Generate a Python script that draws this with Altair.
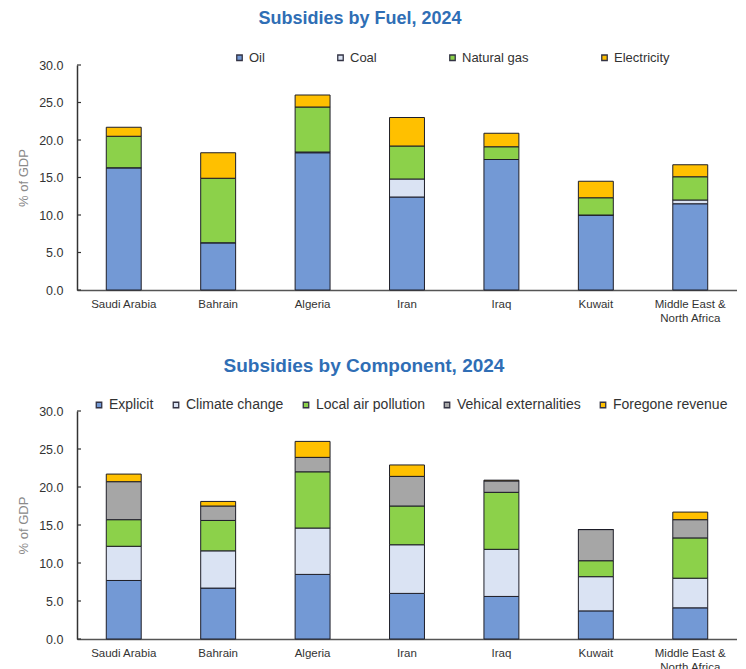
import altair as alt
import pandas as pd

countries = ["Saudi Arabia", "Bahrain", "Algeria", "Iran", "Iraq", "Kuwait", "Middle East & North Africa"]

fuel_names = ["Oil", "Coal", "Natural gas", "Electricity"]
fuel_oil = [16.3, 6.3, 18.3, 12.4, 17.4, 10.0, 11.5]
fuel_coal = [0.0, 0.0, 0.1, 2.4, 0.0, 0.0, 0.5]
fuel_gas = [4.2, 8.6, 6.0, 4.4, 1.7, 2.3, 3.1]
fuel_elec = [1.2, 3.4, 1.6, 3.8, 1.8, 2.2, 1.6]
fuel_colors = ["#7399d5", "#dae3f3", "#8cd14a", "#ffc000"]

comp_names = ["Explicit", "Climate change", "Local air pollution", "Vehical externalities", "Foregone revenue"]
comp_explicit = [7.7, 6.7, 8.5, 6.0, 5.6, 3.7, 4.1]
comp_climate = [4.5, 4.9, 6.1, 6.4, 6.2, 4.5, 3.9]
comp_local = [3.5, 4.0, 7.4, 5.1, 7.5, 2.1, 5.3]
comp_vehicle = [5.0, 1.9, 1.9, 3.9, 1.5, 4.1, 2.4]
comp_foregone = [1.0, 0.6, 2.1, 1.5, 0.1, 0.0, 1.0]
comp_colors = ["#7399d5", "#dae3f3", "#8cd14a", "#a6a6a6", "#ffc000"]

y_ticks = [0, 5, 10, 15, 20, 25, 30]


def make_df(names, series):
    rows = []
    for k, (name, vals) in enumerate(zip(names, series)):
        for c, v in zip(countries, vals):
            rows.append({"country": c, "series": name, "value": v, "order": k})
    return pd.DataFrame(rows)


fuel_df = make_df(fuel_names, [fuel_oil, fuel_coal, fuel_gas, fuel_elec])
comp_df = make_df(comp_names, [comp_explicit, comp_climate, comp_local, comp_vehicle, comp_foregone])
tick_df = pd.DataFrame({"v": y_ticks})

FONT = "Liberation Sans"
label_expr = "datum.value == 'Middle East & North Africa' ? ['Middle East &', 'North Africa'] : datum.value"


def y_axis():
    return alt.Axis(values=y_ticks, format=".1f", grid=False, ticks=False,
                    labelFont=FONT, labelFontSize=12.5, labelColor="#333333",
                    domainColor="#333333", domainWidth=1.5, labelPadding=14,
                    titleFont=FONT, titleFontSize=13, titleFontWeight="normal",
                    titleColor="#8a8a8a", titlePadding=8)


def panel(df, names, colors, title, tsize, tdx, toffset, legend_x, legend_y, col_pad, lsize, h):
    bars = alt.Chart(df).mark_bar(stroke="#1e1e28", strokeWidth=1).encode(
        x=alt.X("country:N", sort=countries, title=None,
                scale=alt.Scale(paddingInner=0.63, paddingOuter=0.31),
                axis=alt.Axis(labelAngle=0, ticks=False, labelExpr=label_expr, labelFont=FONT,
                              labelFontSize=11.5, labelColor="#333333", domainColor="#555555",
                              domainWidth=1.5, labelPadding=8, labelLineHeight=14)),
        y=alt.Y("sum(value):Q", title="% of GDP",
                scale=alt.Scale(domain=[0, 30], nice=False), axis=y_axis()),
        color=alt.Color("series:N", sort=names,
                        scale=alt.Scale(domain=names, range=colors),
                        legend=alt.Legend(title=None, orient="none", direction="horizontal",
                                          legendX=legend_x, legendY=legend_y,
                                          symbolType="square", symbolSize=30,
                                          symbolStrokeColor="#333344", symbolStrokeWidth=1.3,
                                          labelFont=FONT, labelFontSize=lsize, labelColor="#333333",
                                          columnPadding=col_pad, labelOffset=3)),
        order=alt.Order("order:Q", sort="ascending"),
    )
    ticks = alt.Chart(tick_df).mark_rule(color="#333333", strokeWidth=1.2).encode(
        y=alt.Y("v:Q", title="% of GDP", axis=y_axis()),
        x=alt.value(0),
        x2=alt.value(4),
    )
    return alt.layer(bars, ticks, title=alt.TitleParams(
        title, fontSize=tsize, font=FONT, fontWeight="bold", color="#2f6eb5",
        anchor="middle", offset=toffset, dx=tdx
    )).properties(width=660, height=h, view=alt.ViewBackground(stroke=None))


top = panel(fuel_df, fuel_names, fuel_colors, "Subsidies by Fuel, 2024", 18, -47, 23, 156, -14, 69, 13, 225)
bottom = panel(comp_df, comp_names, comp_colors, "Subsidies by Component, 2024", 19, -43, 22, 15, -13, 15, 14, 228)

chart = alt.vconcat(top, bottom, spacing=33).resolve_scale(
    color="independent"
).resolve_legend(color="independent").properties(
    padding={"left": 9, "top": 2, "right": 0, "bottom": 0}
).configure_view(stroke=None).configure(background="white")

chart.save("out.html", embed_options={"renderer": "svg", "actions": False})
